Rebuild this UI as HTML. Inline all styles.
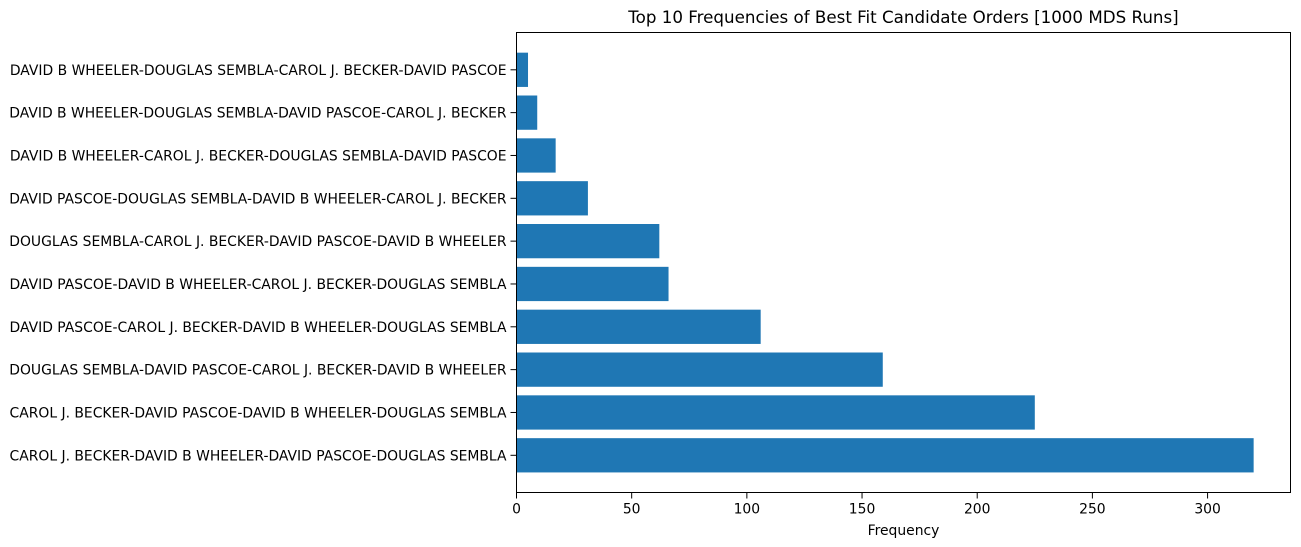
<!DOCTYPE html>
<html><head><meta charset="utf-8"><style>
html,body{margin:0;padding:0;background:#fff;}
svg{display:block;font-family:"DejaVu Sans","Liberation Sans",sans-serif;}
</style></head><body>
<svg id="chart" width="1301" height="547" xmlns="http://www.w3.org/2000/svg">
<text x="903.5" y="23" text-anchor="middle" font-size="16.7" fill="#000">Top 10 Frequencies of Best Fit Candidate Orders [1000 MDS Runs]</text>
<g id="bars"></g>
<g id="yaxis"></g>
<g id="xaxis"></g>
<rect x="516.5" y="32.5" width="774" height="460" fill="none" stroke="#000" stroke-width="1"/>
<text x="903.5" y="535" text-anchor="middle" font-size="13.9" fill="#000">Frequency</text>
</svg>
<script>
const categories = [
"CAROL J. BECKER-DAVID B WHEELER-DAVID PASCOE-DOUGLAS SEMBLA",
"CAROL J. BECKER-DAVID PASCOE-DAVID B WHEELER-DOUGLAS SEMBLA",
"DOUGLAS SEMBLA-DAVID PASCOE-CAROL J. BECKER-DAVID B WHEELER",
"DAVID PASCOE-CAROL J. BECKER-DAVID B WHEELER-DOUGLAS SEMBLA",
"DAVID PASCOE-DAVID B WHEELER-CAROL J. BECKER-DOUGLAS SEMBLA",
"DOUGLAS SEMBLA-CAROL J. BECKER-DAVID PASCOE-DAVID B WHEELER",
"DAVID PASCOE-DOUGLAS SEMBLA-DAVID B WHEELER-CAROL J. BECKER",
"DAVID B WHEELER-CAROL J. BECKER-DOUGLAS SEMBLA-DAVID PASCOE",
"DAVID B WHEELER-DOUGLAS SEMBLA-DAVID PASCOE-CAROL J. BECKER",
"DAVID B WHEELER-DOUGLAS SEMBLA-CAROL J. BECKER-DAVID PASCOE"
];
const frequencies = [320, 225, 159, 106, 66, 62, 31, 17, 9, 5];
const xTicks = [0, 50, 100, 150, 200, 250, 300];

const L = 516.5, R = 1290.5, T = 32.5, B = 492.5;
const xMax = Math.max(...frequencies) * 1.05;
const x = v => L + (v / xMax) * (R - L);
const firstC = 455.3, lastC = 69.8;
const unit = (firstC - lastC) / (categories.length - 1);
const y = i => firstC - i * unit;
const NS = "http://www.w3.org/2000/svg";
const mk = (tag, attrs, parent) => { const e = document.createElementNS(NS, tag); for (const k in attrs) e.setAttribute(k, attrs[k]); parent.appendChild(e); return e; };
const bars = document.getElementById('bars'), ya = document.getElementById('yaxis'), xa = document.getElementById('xaxis');

frequencies.forEach((v, i) => {
  const r = mk('rect', {x: x(0), y: y(i) - 0.4 * unit, width: x(v) - x(0), height: 0.8 * unit, fill: '#1f77b4'}, bars);
  
  
});
categories.forEach((c, i) => {
  const t = mk('line', {x1: L - 6, x2: L, y1: y(i), y2: y(i), stroke: '#000', 'stroke-width': 1}, ya);
  
  
  const tx = mk('text', {x: L - 10, y: y(i) + 5, 'text-anchor': 'end', 'font-size': 13.9, fill: '#000'}, ya);
  tx.textContent = c;
  
  
});
xTicks.forEach(v => {
  const t = mk('line', {x1: x(v), x2: x(v), y1: B, y2: B + 6, stroke: '#000', 'stroke-width': 1}, xa);
  
  
  const tx = mk('text', {x: x(v), y: B + 21, 'text-anchor': 'middle', 'font-size': 13.9, fill: '#000'}, xa);
  tx.textContent = v;
  
  
});
</script>
</body></html>
